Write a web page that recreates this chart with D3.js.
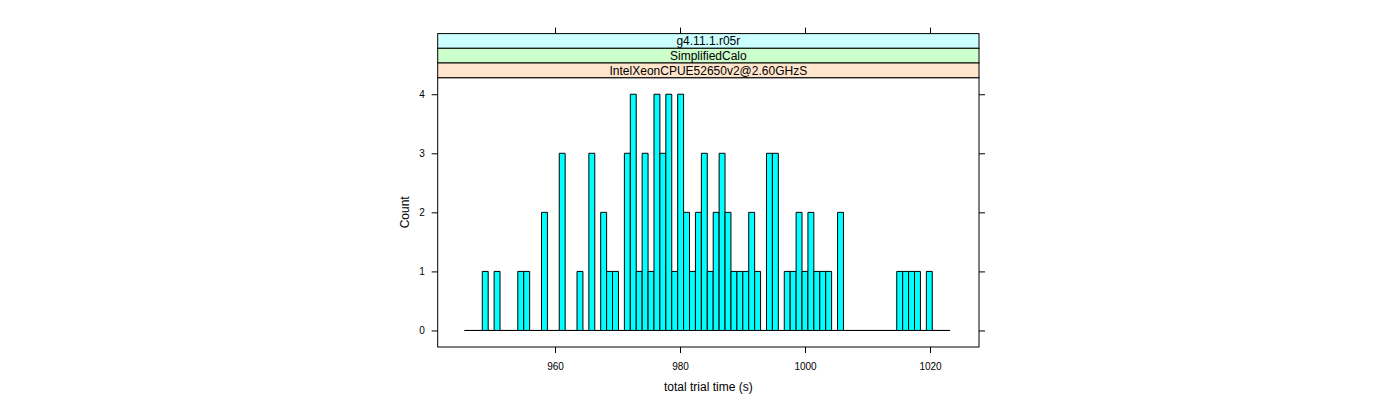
<!DOCTYPE html>
<html>
<head>
<meta charset="utf-8">
<script src="https://cdn.jsdelivr.net/npm/d3@7"></script>
<style>
body { margin: 0; background: #fff; }
text { font-family: "Liberation Sans", Arial, Helvetica, sans-serif; fill: #000; }
</style>
</head>
<body>
<svg id="chart" width="1400" height="400"></svg>
<script>
// ---- data ----
const stripLabels = ["g4.11.1.r05r", "SimplifiedCalo", "IntelXeonCPUE52650v2@2.60GHzS"];
const stripColors = ["#ccffff", "#ccffcc", "#ffe5cc"];
// histogram counts, one per bin (82 bins)
const counts = [
  0,0,0,1,0,1,0,0,0,1,
  1,0,0,2,0,0,3,0,0,1,
  0,3,0,2,1,1,0,3,4,1,
  3,1,4,3,4,1,4,2,1,2,
  3,1,2,3,2,1,1,1,2,1,
  0,3,3,0,1,1,2,1,2,1,
  1,1,0,2,0,0,0,0,0,0,
  0,0,0,1,1,1,1,0,1,0,
  0,0
];
const breakStart = 945.52;
const binWidth = 0.9474;
const xTicks = [960, 980, 1000, 1020];
const yTicks = [0, 1, 2, 3, 4];
const xLimits = [941.23, 1027.84];
const yLimits = [-0.28, 4.28];
const xLabel = "total trial time (s)";
const yLabel = "Count";

// ---- layout ----
const L = 437.7, R = 979, panelTop = 77.7, panelBottom = 347;
const stripH = 14.7;
const stripTop = panelTop - stripH * stripLabels.length;
const tick = 6;

const svg = d3.select("#chart");
const x = d3.scaleLinear().domain(xLimits).range([L, R]);
const y = d3.scaleLinear().domain(yLimits).range([panelBottom, panelTop]);

// bars as closed paths (zero-count bins become a line along the baseline)
const bins = counts.map((c, i) => ({ x0: breakStart + i * binWidth, x1: breakStart + (i + 1) * binWidth, c }));
svg.append("g").selectAll("path").data(bins).join("path")
  .attr("d", d => `M${x(d.x0)},${y(0)}V${y(d.c)}H${x(d.x1)}V${y(0)}Z`)
  .attr("fill", "#00ffff")
  .attr("stroke", "#000")
  .attr("stroke-width", 1);

// panel border
svg.append("rect").attr("x", L).attr("y", panelTop)
  .attr("width", R - L).attr("height", panelBottom - panelTop)
  .attr("fill", "none").attr("stroke", "#000").attr("stroke-width", 1);

// strips
stripLabels.forEach((lab, i) => {
  const sy = stripTop + i * stripH;
  svg.append("rect").attr("x", L).attr("y", sy).attr("width", R - L).attr("height", stripH)
    .attr("fill", stripColors[i]).attr("stroke", "#000").attr("stroke-width", 1);
  svg.append("text").attr("x", (L + R) / 2).attr("y", sy + stripH / 2 + 4.3)
    .attr("text-anchor", "middle").attr("font-size", 12).text(lab);
});

// axes
const gB = svg.append("g").attr("transform", `translate(0,${panelBottom})`)
  .call(d3.axisBottom(x).tickValues(xTicks).tickSize(tick).tickFormat(d3.format("d")));
gB.selectAll("text").attr("y", 23).attr("dy", null).attr("font-size", 10).attr("font-family", null);

const gT = svg.append("g").attr("transform", `translate(0,${stripTop})`)
  .call(d3.axisTop(x).tickValues(xTicks).tickSize(tick).tickFormat(""));

const gL = svg.append("g").attr("transform", `translate(${L},0)`)
  .call(d3.axisLeft(y).tickValues(yTicks).tickSize(tick).tickFormat(d3.format("d")));
gL.selectAll("text").attr("x", -13).attr("dy", "0.35em").attr("font-size", 10).attr("font-family", null);

const gR = svg.append("g").attr("transform", `translate(${R},0)`)
  .call(d3.axisRight(y).tickValues(yTicks).tickSize(tick).tickFormat(""));

[gB, gT, gL, gR].forEach(g => {
  g.select(".domain").remove();
  g.selectAll("line").attr("stroke", "#000");
  g.selectAll("text").attr("fill", "#000");
});

// axis titles
svg.append("text").attr("x", (L + R) / 2).attr("y", 391)
  .attr("text-anchor", "middle").attr("font-size", 12).text(xLabel);
svg.append("text").attr("transform", `translate(409,${(panelTop + panelBottom) / 2}) rotate(-90)`)
  .attr("text-anchor", "middle").attr("font-size", 12).text(yLabel);
</script>
</body>
</html>
